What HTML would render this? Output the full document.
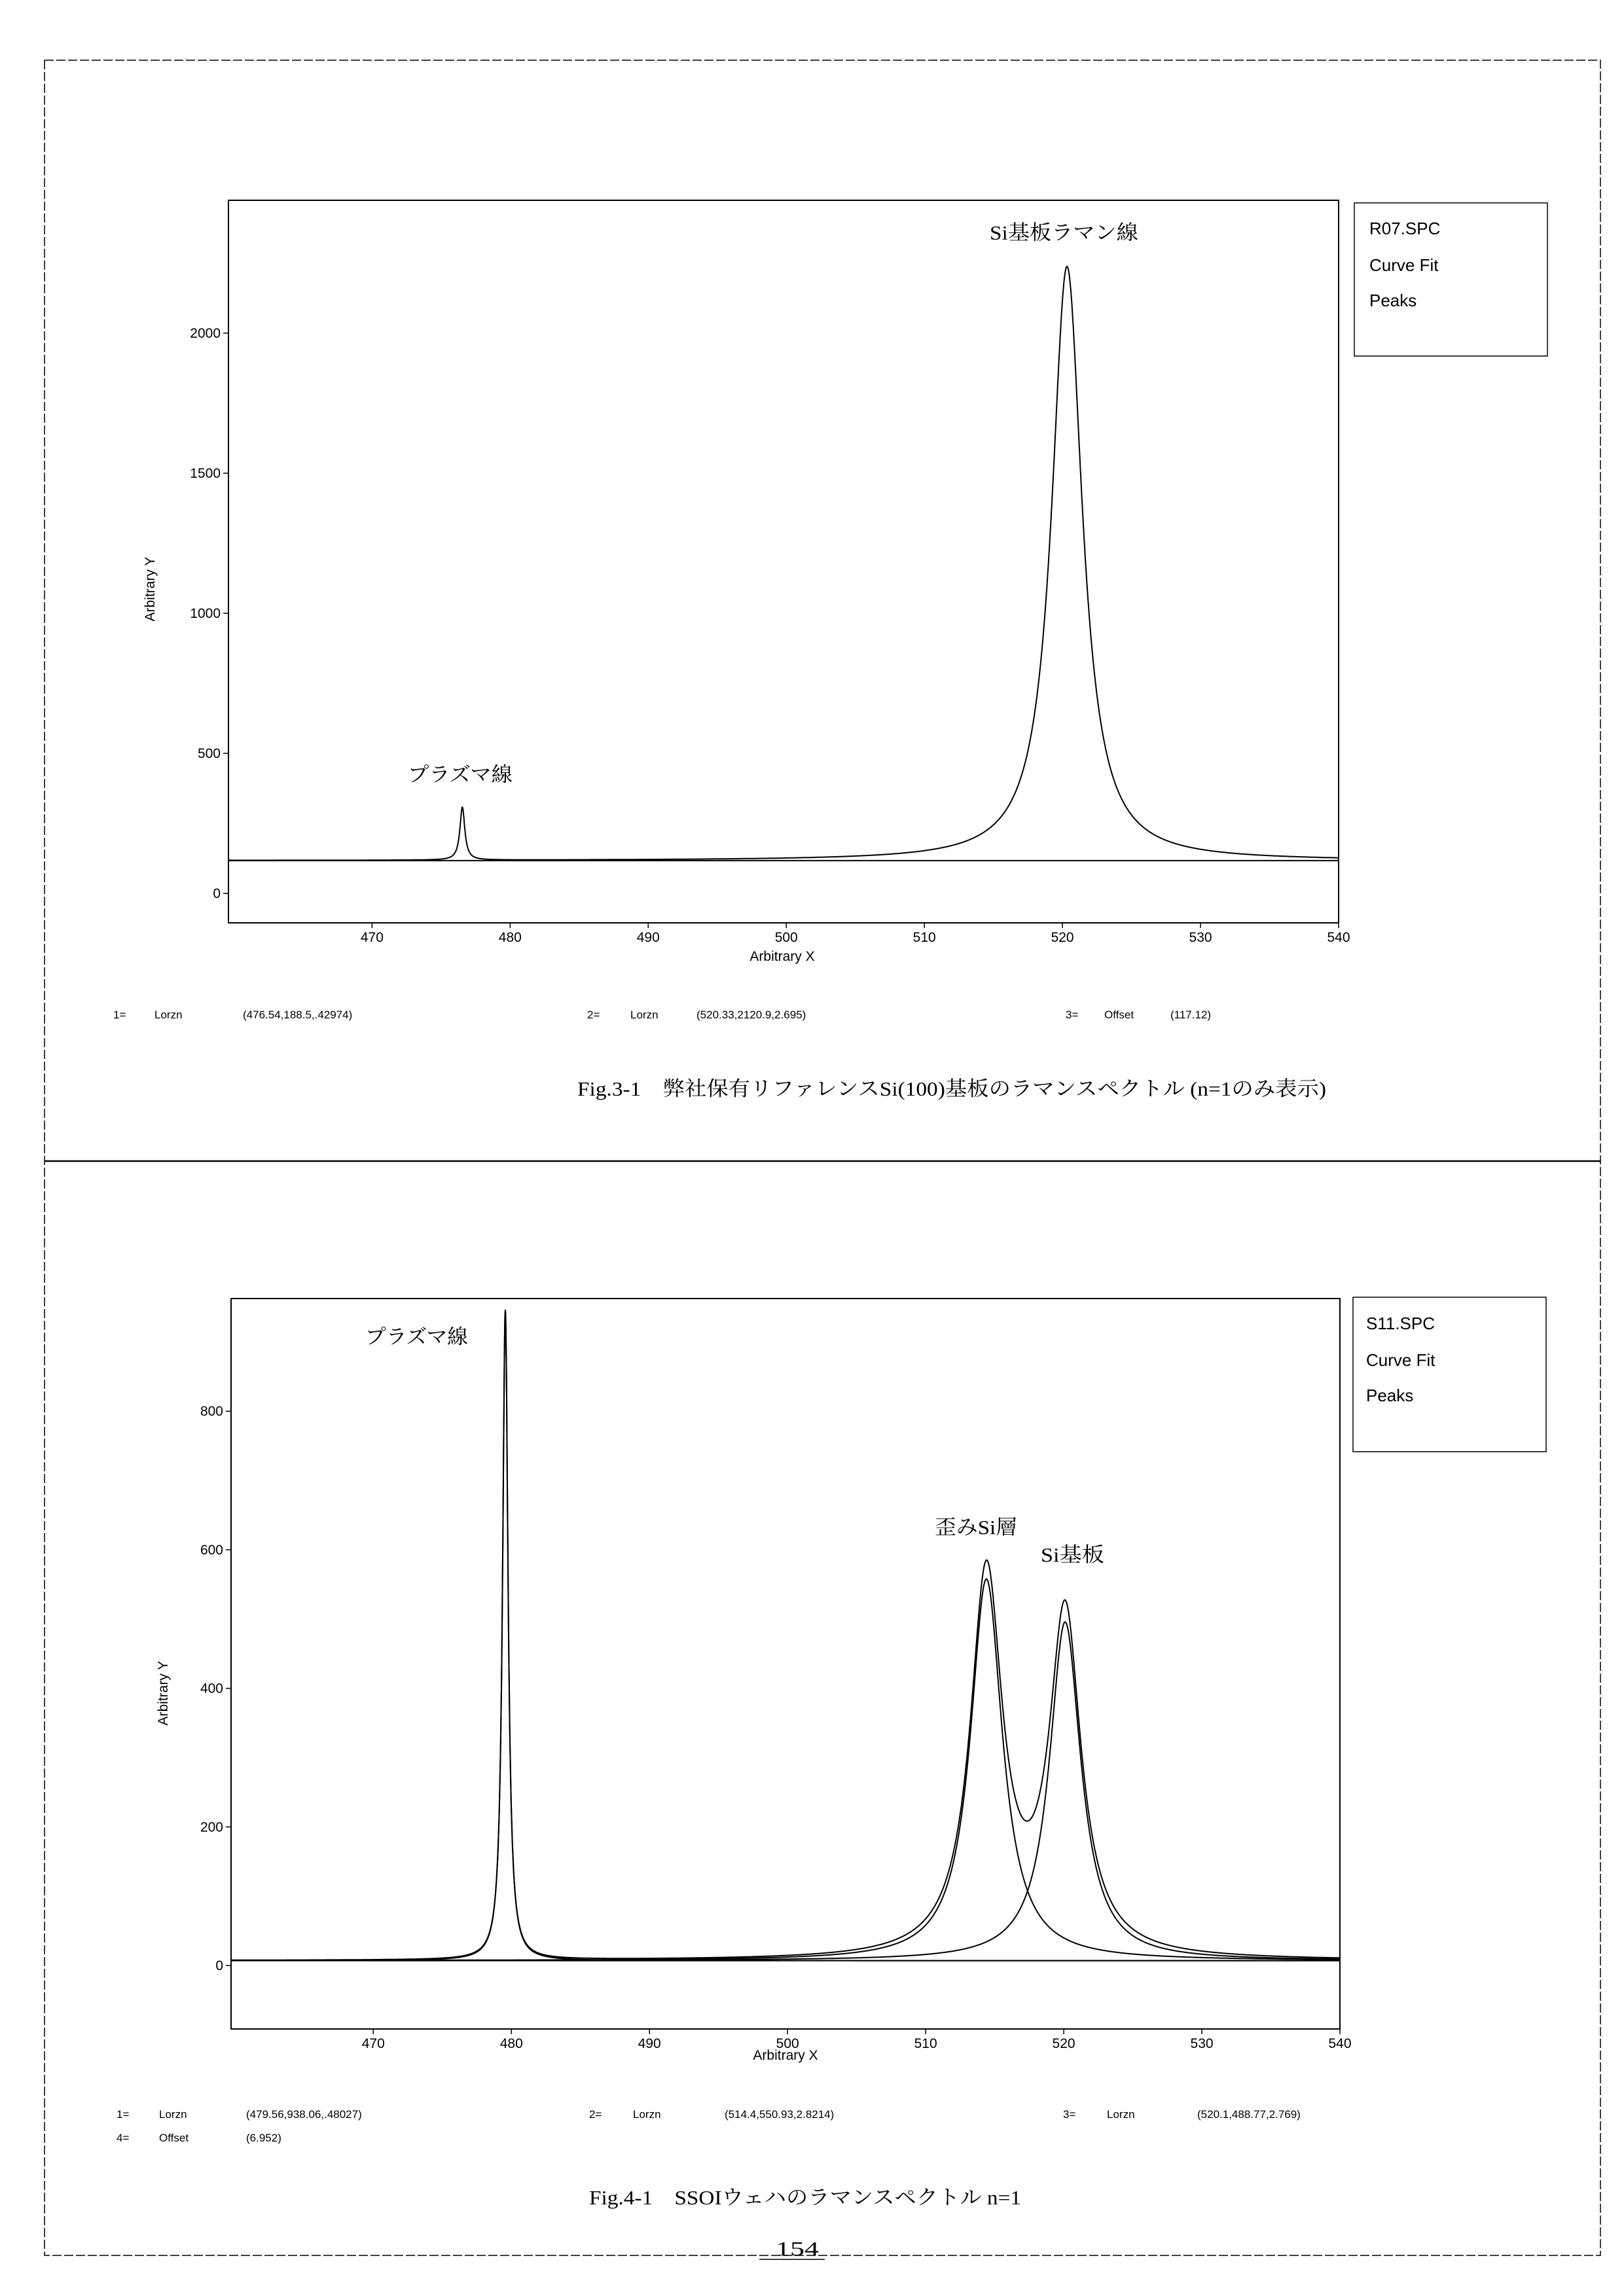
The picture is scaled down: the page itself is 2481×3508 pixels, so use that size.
<!DOCTYPE html>
<html><head><meta charset="utf-8"><style>
html,body{margin:0;padding:0;background:#fff;}
svg{display:block}
text{font-family:"Liberation Sans","Noto Sans CJK JP",sans-serif;fill:#000}
.s{font-family:"Liberation Serif","Noto Serif CJK SC",serif}
</style></head><body>
<svg id="g" width="2481" height="3508" xmlns="http://www.w3.org/2000/svg">
<g stroke="#000" fill="none" stroke-width="2">
<path d="M68 92 H2445 V3446 H68 Z" stroke-width="1.5" stroke-dasharray="14 4"/>
<line x1="68" y1="1774" x2="2445" y2="1774" stroke-width="2.5"/>
<rect x="349" y="306" width="1696" height="1104"/>
<rect x="2069" y="310" width="295" height="234" stroke-width="1.5"/>
<rect x="353" y="1984" width="1694" height="1116"/>
<rect x="2067" y="1982" width="295" height="236" stroke-width="1.5"/>
<line x1="1160" y1="3452" x2="1260" y2="3452" stroke-width="1.5"/>
</g>
<g id="c1" stroke="#000" fill="none" stroke-width="2"></g>
<g id="c2" stroke="#000" fill="none" stroke-width="2"></g>
<g id="t1" font-size="21"></g>
<g id="t2" font-size="21"></g>

<text x="236" y="900" font-size="21" transform="rotate(-90 236 900)" text-anchor="middle">Arbitrary Y</text>
<text x="1195" y="1468" font-size="21" text-anchor="middle">Arbitrary X</text>
<text x="256" y="2587" font-size="21" transform="rotate(-90 256 2587)" text-anchor="middle">Arbitrary Y</text>
<text x="1200" y="3147" font-size="21" text-anchor="middle">Arbitrary X</text>

<g font-size="26">
<text x="2092" y="358">R07.SPC</text><text x="2092" y="414">Curve Fit</text><text x="2092" y="468">Peaks</text>
<text x="2087" y="2031">S11.SPC</text><text x="2087" y="2087">Curve Fit</text><text x="2087" y="2141">Peaks</text>
</g>
<g class="s" font-size="31">
<text class="s" x="1512" y="366" textLength="227" lengthAdjust="spacingAndGlyphs">Si基板ラマン線</text>
<text class="s" x="623" y="1194" textLength="160" lengthAdjust="spacingAndGlyphs">プラズマ線</text>
<text class="s" x="558" y="2053" textLength="157" lengthAdjust="spacingAndGlyphs">プラズマ線</text>
<text class="s" x="1428" y="2344" textLength="126" lengthAdjust="spacingAndGlyphs">歪みSi層</text>
<text class="s" x="1590" y="2386" textLength="97" lengthAdjust="spacingAndGlyphs">Si基板</text>
<text class="s" x="882" y="1674" textLength="1144" lengthAdjust="spacingAndGlyphs">Fig.3-1　弊社保有リファレンスSi(100)基板のラマンスペクトル (n=1のみ表示)</text>
<text class="s" x="900" y="3368" textLength="660" lengthAdjust="spacingAndGlyphs">Fig.4-1　SSOIウェハのラマンスペクトル n=1</text>
<text class="s" x="1185" y="3446" textLength="66" lengthAdjust="spacingAndGlyphs">154</text>
</g>
<g font-size="17">
<text x="173" y="1556">1=</text><text x="236" y="1556">Lorzn</text><text x="371" y="1556">(476.54,188.5,.42974)</text>
<text x="897" y="1556">2=</text><text x="963" y="1556">Lorzn</text><text x="1064" y="1556">(520.33,2120.9,2.695)</text>
<text x="1628" y="1556">3=</text><text x="1687" y="1556">Offset</text><text x="1788" y="1556">(117.12)</text>
<text x="178" y="3236">1=</text><text x="243" y="3236">Lorzn</text><text x="376" y="3236">(479.56,938.06,.48027)</text>
<text x="900" y="3236">2=</text><text x="967" y="3236">Lorzn</text><text x="1107" y="3236">(514.4,550.93,2.8214)</text>
<text x="1624" y="3236">3=</text><text x="1691" y="3236">Lorzn</text><text x="1829" y="3236">(520.1,488.77,2.769)</text>
<text x="178" y="3272">4=</text><text x="243" y="3272">Offset</text><text x="376" y="3272">(6.952)</text>
</g>
</svg>
<script>
var NS="http://www.w3.org/2000/svg";
function el(p,n,a,t){var e=document.createElementNS(NS,n);for(var k in a)e.setAttribute(k,a[k]);if(t!=null)e.textContent=t;p.appendChild(e);return e;}
function L(x,x0,h,w){var d=(x-x0)/(w/2);return h/(1+d*d);}
function chart(gid,tid,X0,X1,left,right,y0px,pxPerUnit,yticks,offset,peaks,top,bottom){
 var g=document.getElementById(gid),t=document.getElementById(tid);
 var sx=function(x){return left+(x-X0)/(X1-X0)*(right-left);};
 var sy=function(y){return y0px-y*pxPerUnit;};
 function path(f){var d="";for(var x=X0;x<=X1;x+=0.02){var v=f(x);var yy=Math.max(top,sy(v));d+=(d?"L":"M")+sx(x).toFixed(1)+" "+yy.toFixed(1);}el(g,"path",{d:d});}
 path(function(x){var s=offset;peaks.forEach(function(p){s+=L(x,p[0],p[1],p[2]);});return s;});
 if(peaks.length>2) peaks.forEach(function(p){path(function(x){return offset+L(x,p[0],p[1],p[2]);});});
 el(g,"line",{x1:left,y1:sy(offset),x2:right,y2:sy(offset)});
 yticks.forEach(function(v){var y=sy(v);el(g,"line",{x1:left-8,y1:y,x2:left,y2:y,"stroke-width":1.5});el(t,"text",{x:left-12,y:y+7,"text-anchor":"end"},String(v));});
 for(var v=470;v<=540;v+=10){var x=sx(v);el(g,"line",{x1:x,y1:bottom,x2:x,y2:bottom+8,"stroke-width":1.5});el(t,"text",{x:x,y:bottom+29,"text-anchor":"middle"},String(v));}
}
chart("c1","t1",459.6,540,349,2045,1365,214/500,[0,500,1000,1500,2000],117.12,[[476.54,188.5,0.42974],[520.33,2120.9,2.695]],306,1410);
chart("c2","t2",459.7,540,353,2047,3003,211.7/200,[0,200,400,600,800],6.952,[[479.56,938.06,0.48027],[514.4,550.93,2.8214],[520.1,488.77,2.769]],1984,3100);
</script>
</body></html>
